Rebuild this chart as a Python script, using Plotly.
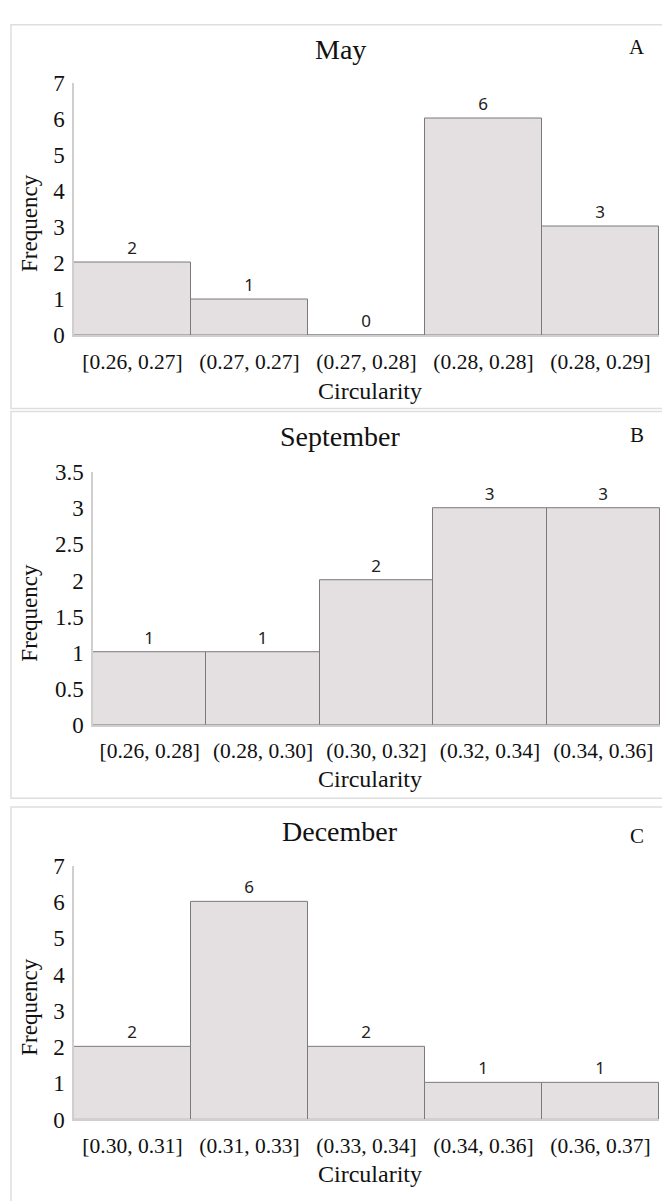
import plotly.graph_objects as go

W, H = 662, 1201

may_bins = ["[0.26, 0.27]", "(0.27, 0.27]", "(0.27, 0.28]", "(0.28, 0.28]", "(0.28, 0.29]"]
may_freq = [2, 1, 0, 6, 3]

sep_bins = ["[0.26, 0.28]", "(0.28, 0.30]", "(0.30, 0.32]", "(0.32, 0.34]", "(0.34, 0.36]"]
sep_freq = [1, 1, 2, 3, 3]

dec_bins = ["[0.30, 0.31]", "(0.31, 0.33]", "(0.33, 0.34]", "(0.34, 0.36]", "(0.36, 0.37]"]
dec_freq = [2, 6, 2, 1, 1]

titles = ["May", "September", "December"]
letters = ["A", "B", "C"]
y_ticks = [[0, 1, 2, 3, 4, 5, 6, 7],
           [0, 0.5, 1, 1.5, 2, 2.5, 3, 3.5],
           [0, 1, 2, 3, 4, 5, 6, 7]]
y_max = [7, 3.5, 7]

def px(x):
    return x / W

def py(y):
    return 1 - y / H

panels = [
    dict(bins=may_bins, freq=may_freq, x0=74, x1=659, y0=330, y1=72,
         box=(11, 13, 405), title_y=38, letter_y=36, xt_y=387, freq_x=30),
    dict(bins=sep_bins, freq=sep_freq, x0=93, x1=660, y0=728, y1=470,
         box=(11, 408, 803), title_y=434, letter_y=432, xt_y=783, freq_x=30),
    dict(bins=dec_bins, freq=dec_freq, x0=74, x1=659, y0=1131, y1=872,
         box=(11, 812, 1215), title_y=837, letter_y=842, xt_y=1187, freq_x=30),
]

fig = go.Figure()
serif = "Liberation Serif, Times New Roman, serif"
shapes = []
annotations = []

for i, p in enumerate(panels):
    n = "" if i == 0 else str(i + 1)
    fig.add_trace(go.Bar(
        x=p["bins"], y=p["freq"], xaxis="x" + n, yaxis="y" + n,
        marker=dict(color="#e4dfe1", line=dict(color="#7a7a7a", width=1)),
        width=1, text=[str(v) for v in p["freq"]], textposition="outside",
        textfont=dict(family="Noto Sans, Arial, sans-serif", size=17, color="#222"),
        cliponaxis=False, showlegend=False, hoverinfo="skip",
    ))
    fig.layout["xaxis" + n] = dict(
        domain=[px(p["x0"]), px(p["x1"])], anchor="y" + n, type="category",
        range=[-0.5, 4.5], showline=True, linecolor="#cfcfcf", linewidth=1.5,
        ticks="", ticklabelstandoff=6, showgrid=False,
        tickfont=dict(family=serif, size=21.5, color="#111"),
    )
    fig.layout["yaxis" + n] = dict(
        domain=[py(p["y0"]), py(p["y1"])], anchor="x" + n,
        range=[0, y_max[i]], tickvals=y_ticks[i], showline=True,
        linecolor="#cfcfcf", linewidth=1.5, showgrid=False, zeroline=False,
        ticks="", ticklabelstandoff=3,
        tickfont=dict(family=serif, size=23, color="#111"),
    )
    bx0, by0, by1 = p["box"]
    shapes.append(dict(type="rect", xref="paper", yref="paper",
                       x0=px(bx0), x1=1.02, y0=py(by1), y1=py(by0),
                       line=dict(color="#dedede", width=1.5), layer="below"))
    annotations.append(dict(text=titles[i], xref="paper", yref="paper",
                            x=px(340), y=py(p["title_y"]), showarrow=False,
                            xanchor="center", yanchor="middle",
                            font=dict(family=serif, size=28, color="#111")))
    annotations.append(dict(text=letters[i], xref="paper", yref="paper",
                            x=px(637), y=py(p["letter_y"]), showarrow=False,
                            xanchor="center", yanchor="middle",
                            font=dict(family=serif, size=21, color="#111")))
    annotations.append(dict(text="Circularity", xref="paper", yref="paper",
                            x=px(370), y=py(p["xt_y"]), showarrow=False,
                            xanchor="center", yanchor="middle",
                            font=dict(family=serif, size=24, color="#111")))
    annotations.append(dict(text="Frequency", xref="paper", yref="paper",
                            x=px(p["freq_x"]), y=(py(p["y0"]) + py(p["y1"])) / 2 - 0.012,
                            showarrow=False, textangle=-90,
                            xanchor="center", yanchor="middle",
                            font=dict(family=serif, size=23, color="#111")))

fig.update_layout(
    width=W, height=H, margin=dict(l=0, r=0, t=0, b=0),
    paper_bgcolor="white", plot_bgcolor="white", bargap=0,
    shapes=shapes, annotations=annotations,
)

fig.write_html("out.html", config={"displayModeBar": False},
               post_script="document.body.style.margin='0';document.body.style.overflow='hidden';")
